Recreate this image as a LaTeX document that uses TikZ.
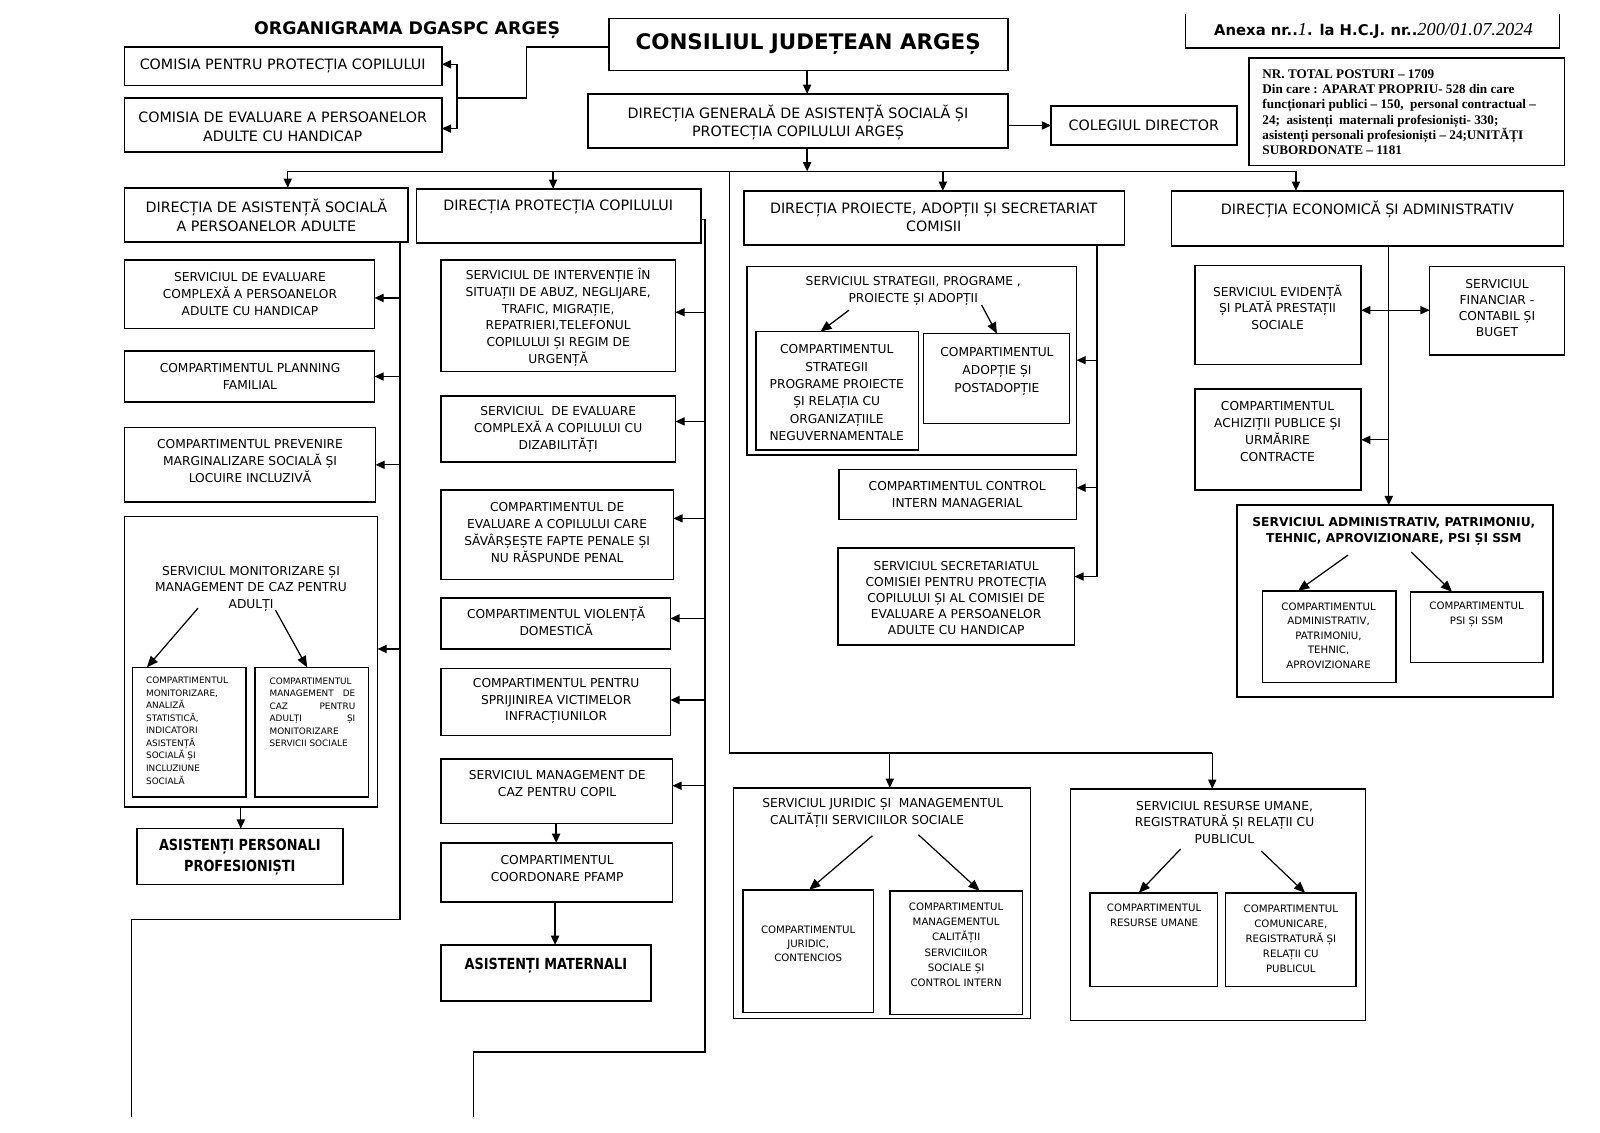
\documentclass[tikz,border=0pt]{standalone}
\usepackage{graphicx}
\usepackage{fontspec}
\setmainfont{DejaVu Sans}
\newfontfamily\tnr{Liberation Serif}
\usetikzlibrary{arrows.meta,fit}
\tikzset{
  bx/.style={draw, line width=1.5pt, inner sep=0pt, outer sep=0pt},
  sbx/.style={draw, line width=1.4pt, inner sep=0pt, outer sep=0pt},
  ln/.style={line width=1.3pt},
  ar/.style={line width=1.3pt, -{Triangle[length=9pt,width=8pt]}},
  ars/.style={line width=1.2pt, -{Triangle[length=11pt,width=9pt]}},
  dar/.style={line width=1.3pt, {Triangle[length=9pt,width=8pt]}-{Triangle[length=9pt,width=8pt]}},
  tH/.style={inner sep=0pt, align=center, font=\fontsize{14}{18.5}\selectfont},
  tM/.style={inner sep=0pt, align=center, font=\fontsize{12}{16.5}\selectfont},
  tS/.style={inner sep=0pt, align=center, font=\fontsize{10}{14.5}\selectfont},
  tX/.style={inner sep=0pt, align=left, font=\fontsize{8.7}{12.3}\selectfont},
  tB/.style={inner sep=0pt, align=center, font=\fontsize{15}{20}\selectfont\bfseries},
}
\begin{document}
\begin{tikzpicture}[x=1pt,y=-1pt]
\useasboundingbox (0,0) rectangle (1568,1110);
\fill[white] (0,0) rectangle (1568,1110);

% ---------------- top ----------------
\node[inner sep=0pt, font=\fontsize{17}{20}\selectfont\bfseries] (title) at (399,30) {ORGANIGRAMA DGASPC ARGEȘ};
\node[bx, fit={(122,46) (433,84)}] (com1) {};
\node[tH] (com1t) at (277,65) {COMISIA PENTRU PROTECȚIA COPILULUI};
\node[bx, fit={(122,96) (433,149)}] (com2) {};
\node[tH] (com2t) at (277,124) {COMISIA DE EVALUARE A PERSOANELOR\\ADULTE CU HANDICAP};
\node[bx, fit={(597,18) (988,69)}] (cja) {};
\node[inner sep=0pt, font=\fontsize{21}{24}\selectfont\bfseries] (cjat) at (792,43) {CONSILIUL JUDEȚEAN ARGEȘ};
\node[bx, fit={(576,92) (988,145)}] (dg) {};
\node[tH] (dgt) at (782,120) {DIRECȚIA GENERALĂ DE ASISTENȚĂ SOCIALĂ ȘI\\PROTECȚIA COPILULUI ARGEȘ};
\node[bx, fit={(1030,104) (1212,142)}] (col) {};
\node[tH] (colt) at (1121,123) {COLEGIUL DIRECTOR};

\draw[line width=1.3pt] (1162,14) -- (1162,47) -- (1528,47) -- (1528,14);
\node[inner sep=0pt, font=\fontsize{14.5}{16}\selectfont\bfseries] (anexa) at (1346,30) {Anexa nr..{\tnr\itshape\mdseries\fontsize{18}{18}\selectfont 1}. la H.C.J. nr..{\tnr\itshape\mdseries\fontsize{18}{18}\selectfont 200/01.07.2024}};

\node[bx, fit={(1224,57) (1533,162)}] (nr) {};
\node[inner sep=0pt, align=left, anchor=west, font=\tnr\bfseries\fontsize{12.9}{15}\selectfont] (nrt) at (1237,110) {NR. TOTAL POSTURI – 1709\\Din care : APARAT PROPRIU- 528 din care\\funcționari publici – 150,\ \ personal contractual –\\24;\ \ asistenți\ \ maternali profesioniști- 330;\\asistenți personali profesioniști – 24;UNITĂȚI\\SUBORDONATE – 1181};

\coordinate (cj1) at (516,46);
\coordinate (cj2) at (516,96);
\coordinate (cjv) at (448,96);
\draw[ln] (cja.west |- cj1) -- (cj1) -- (cj2) -- (cjv);
\draw[ar] (cjv) |- (com1.east |- 0,63);
\draw[ar] (cjv) |- (com2.east |- 0,126);
\draw[ar] (cja.south -| 791,0) -- (dg.north -| 791,0);
\draw[ar] (dg.east |- col.west) -- (col.west);

\coordinate (busL) at (282,168);
\coordinate (busR) at (1270,168);
\draw[ar] (dg.south -| 791,0) -- (busL -| 791,0);
\draw[ln] (busL) -- (busR);

% ---------------- directions ----------------
\node[bx, fit={(122,184) (400,237)}] (das) {};
\node[tH] (dast) at (261,211) {DIRECȚIA DE ASISTENȚĂ SOCIALĂ\\A PERSOANELOR ADULTE};
\draw[ar] (busL) -- (busL |- das.north);

\node[bx, fit={(408,185) (687,238)}] (dpc) {};
\node[tH] (dpct) at (547,203) {DIRECȚIA PROTECȚIA COPILULUI};
\coordinate (b2) at (542,168);
\draw[ar] (b2) -- (b2 |- dpc.north);

\node[bx, fit={(729,187) (1102,240)}] (dpa) {};
\node[tH] (dpat) at (915,213) {DIRECȚIA PROIECTE, ADOPȚII ȘI SECRETARIAT\\COMISII};
\coordinate (b3) at (924,168);
\draw[ar] (b3) -- (b3 |- dpa.north);

\node[bx, fit={(1148,187) (1532,241)}] (dea) {};
\node[tH] (deat) at (1340,205) {DIRECȚIA ECONOMICĂ ȘI ADMINISTRATIV};
\draw[ar] (busR) -- (busR |- dea.north);

% ---------------- DAS column ----------------
\node[bx, fit={(122,255) (367,322)}] (sea) {};
\node[tM] (seat) at (245,288) {SERVICIUL DE EVALUARE\\COMPLEXĂ A PERSOANELOR\\ADULTE CU HANDICAP};
\node[bx, fit={(122,344) (367,394)}] (pf) {};
\node[tM] (pft) at (245,369) {COMPARTIMENTUL PLANNING\\FAMILIAL};
\node[bx, fit={(122,419) (368,492)}] (pm) {};
\node[tM] (pmt) at (245,452) {COMPARTIMENTUL PREVENIRE\\MARGINALIZARE SOCIALĂ ȘI\\LOCUIRE INCLUZIVĂ};
\node[bx, fit={(122,506) (370,791)}] (smc) {};
\node[tM] (smct) at (246,577) {SERVICIUL MONITORIZARE ȘI\\MANAGEMENT DE CAZ PENTRU\\ADULȚI};
\node[sbx, fit={(130,654) (241,781)}] (sm1) {};
\node[tX, anchor=west] (sm1t) at (143,716) {COMPARTIMENTUL\\MONITORIZARE,\\ANALIZĂ\\STATISTICĂ,\\INDICATORI\\ASISTENȚĂ\\SOCIALĂ ȘI\\INCLUZIUNE\\SOCIALĂ};
\node[sbx, fit={(250,654) (361,781)}] (sm2) {};
\node[tX, anchor=west, text width=84pt] (sm2t) at (264,698) {COMPARTIMENTUL\\MANAGEMENT\hfill DE\\CAZ\hfill PENTRU\\ADULȚI\hfill ȘI\\MONITORIZARE\\SERVICII SOCIALE};
\coordinate (sma) at (194,596);
\coordinate (smb) at (270,598);
\draw[ars] (sma) -- (sm1.north -| 144,0);
\draw[ars] (smb) -- (sm2.north -| 301,0);
\node[bx, fit={(134,812) (336,867)}] (ap) {};
\node[tB] (apt) at (235,840) {\scalebox{0.84}[1]{ASISTENȚI PERSONALI}\\\scalebox{0.84}[1]{PROFESIONIȘTI}};
\draw[ar] (smc.south -| 236,0) -- (ap.north -| 236,0);

\coordinate (dv1) at (392,237);
\coordinate (dv2) at (392,901);
\coordinate (dv3) at (129,901);
\coordinate (dv4) at (129,1095);
\draw[ln] (das.south -| dv1) -- (dv2) -- (dv3) -- (dv4);
\draw[ar] (dv1 |- 0,292) -- (sea.east |- 0,292);
\draw[ar] (dv1 |- pf.east) -- (pf.east);
\draw[ar] (dv1 |- pm.east) -- (pm.east);
\draw[ar] (dv1 |- 0,636) -- (smc.east |- 0,636);

% ---------------- DPC column ----------------
\node[bx, fit={(432,255) (662,364)}] (si) {};
\node[tM] (sit) at (547,311) {SERVICIUL DE INTERVENȚIE ÎN\\SITUAȚII DE ABUZ, NEGLIJARE,\\TRAFIC, MIGRAȚIE,\\REPATRIERI,TELEFONUL\\COPILULUI ȘI REGIM DE\\URGENȚĂ};
\node[bx, fit={(432,388) (662,453)}] (sec) {};
\node[tM] (sect) at (547,421) {SERVICIUL\ \ DE EVALUARE\\COMPLEXĂ A COPILULUI CU\\DIZABILITĂȚI};
\node[bx, fit={(432,480) (660,568)}] (ce) {};
\node[tM] (cet) at (546,522) {COMPARTIMENTUL DE\\EVALUARE A COPILULUI CARE\\SĂVÂRȘEȘTE FAPTE PENALE ȘI\\NU RĂSPUNDE PENAL};
\node[bx, fit={(432,586) (657,636)}] (vd) {};
\node[tM] (vdt) at (545,609) {COMPARTIMENTUL VIOLENȚĂ\\DOMESTICĂ};
\node[bx, fit={(432,655) (657,721)}] (sv) {};
\node[tM] (svt) at (545,687) {COMPARTIMENTUL PENTRU\\SPRIJINIREA VICTIMELOR\\INFRACȚIUNILOR};
\node[bx, fit={(432,744) (659,807)}] (smcc) {};
\node[tM] (smcct) at (546,768) {SERVICIUL MANAGEMENT DE\\CAZ PENTRU COPIL};
\node[bx, fit={(432,826) (659,884)}] (pfamp) {};
\node[tM] (pfampt) at (546,851) {COMPARTIMENTUL\\COORDONARE PFAMP};
\node[bx, fit={(432,926) (638,981)}] (am) {};
\node[tB] (amt) at (535,946) {\scalebox{0.84}[1]{ASISTENȚI MATERNALI}};
\draw[ar] (smcc.south -| 545,0) -- (pfamp.north -| 545,0);
\draw[ar] (pfamp.south -| 544,0) -- (am.north -| 544,0);

\coordinate (pv1) at (691,215);
\coordinate (pv2) at (691,1031);
\coordinate (pv3) at (464,1031);
\coordinate (pv4) at (464,1095);
\draw[ln] (dpc.east |- pv1) -- (pv1) -- (pv2) -- (pv3) -- (pv4);
\draw[ar] (pv1 |- 0,306) -- (si.east |- 0,306);
\draw[ar] (pv1 |- 0,413) -- (sec.east |- 0,413);
\draw[ar] (pv1 |- 0,508) -- (ce.east |- 0,508);
\draw[ar] (pv1 |- 0,606) -- (vd.east |- 0,606);
\draw[ar] (pv1 |- 0,686) -- (sv.east |- 0,686);
\draw[ar] (pv1 |- 0,770) -- (smcc.east |- 0,770);

% ---------------- DPA column ----------------
\node[bx, fit={(732,261) (1055,446)}] (ss) {};
\node[tM] (sst) at (895,285) {SERVICIUL STRATEGII, PROGRAME ,\\PROIECTE ȘI ADOPȚII};
\node[sbx, fit={(741,325) (900,441)}] (ss1) {};
\node[tM, font=\fontsize{12}{17}\selectfont] (ss1t) at (820,385) {COMPARTIMENTUL\\STRATEGII\\PROGRAME PROIECTE\\ȘI RELAȚIA CU\\ORGANIZAȚIILE\\NEGUVERNAMENTALE};
\node[sbx, fit={(905,327) (1048,415)}] (ss2) {};
\node[tM, font=\fontsize{12}{17.5}\selectfont] (ss2t) at (977,364) {COMPARTIMENTUL\\ADOPȚIE ȘI\\POSTADOPȚIE};
\coordinate (ssa) at (832,304);
\coordinate (ssb) at (962,299);
\draw[ars] (ssa) -- (ss1.north -| 804,0);
\draw[ars] (ssb) -- (ss2.north -| 977,0);
\node[bx, fit={(822,460) (1055,509)}] (cim) {};
\node[tM] (cimt) at (938,485) {COMPARTIMENTUL CONTROL\\INTERN MANAGERIAL};
\node[bx, fit={(821,537) (1053,632)}] (ssec) {};
\node[tM, font=\fontsize{12}{15.8}\selectfont] (ssect) at (937,586) {SERVICIUL SECRETARIATUL\\COMISIEI PENTRU PROTECȚIA\\COPILULUI ȘI AL COMISIEI DE\\EVALUARE A PERSOANELOR\\ADULTE CU HANDICAP};

\coordinate (av1) at (1075,240);
\coordinate (av2) at (1075,565);
\draw[ln] (dpa.south -| av1) -- (av2);
\draw[ar] (av1 |- 0,353) -- (ss.east |- 0,353);
\draw[ar] (av1 |- 0,478) -- (cim.east |- 0,478);
\draw[ar] (av2) -- (ssec.east |- av2);

% ---------------- DEA column ----------------
\node[bx, fit={(1171,260) (1334,357)}] (ev) {};
\node[tM] (evt) at (1252,301) {SERVICIUL EVIDENȚĂ\\ȘI PLATĂ PRESTAȚII\\SOCIALE};
\node[bx, fit={(1401,261) (1533,348)}] (fin) {};
\node[tM, font=\fontsize{12}{15.8}\selectfont] (fint) at (1467,302) {SERVICIUL\\FINANCIAR -\\CONTABIL ȘI\\BUGET};
\node[bx, fit={(1171,381) (1334,480)}] (ach) {};
\node[tM] (acht) at (1252,423) {COMPARTIMENTUL\\ACHIZIȚII PUBLICE ȘI\\URMĂRIRE\\CONTRACTE};
\node[bx, fit={(1212,495) (1522,683)}] (sa) {};
\node[tM, font=\fontsize{12}{15.5}\selectfont\bfseries] (sat) at (1366,521) {SERVICIUL ADMINISTRATIV, PATRIMONIU,\\TEHNIC, APROVIZIONARE, PSI ȘI SSM};
\node[sbx, fit={(1237,579) (1368,669)}] (sa1) {};
\node[tS, font=\fontsize{10}{14.2}\selectfont] (sa1t) at (1302,623) {COMPARTIMENTUL\\ADMINISTRATIV,\\PATRIMONIU,\\TEHNIC,\\APROVIZIONARE};
\node[sbx, fit={(1382,580) (1512,649)}] (sa2) {};
\node[tS, font=\fontsize{10}{14.2}\selectfont] (sa2t) at (1447,602) {COMPARTIMENTUL\\PSI ȘI SSM};
\coordinate (saa) at (1321,544);
\coordinate (sab) at (1383,541);
\draw[ars] (saa) -- (sa1.north -| 1272,0);
\draw[ars] (sab) -- (sa2.north -| 1423,0);

\coordinate (ev1) at (1361,241);
\draw[ar] (dea.south -| ev1) -- (sa.north -| ev1);
\draw[dar] (ev.east |- 0,304) -- (fin.west |- 0,304);
\draw[ar] (ev1 |- 0,431) -- (ach.east |- 0,431);

% ---------------- bottom row ----------------
\coordinate (b4) at (715,168);
\coordinate (b4d) at (715,738);
\coordinate (b5) at (1188,738);
\coordinate (b6) at (872,738);
\draw[ln] (b4) -- (b4d) -- (b5);

\node[bx, fit={(719,772) (1010,998)}] (jur) {};
\node[tM, align=left, anchor=west] (jurt) at (747,797) {SERVICIUL JURIDIC ȘI\ \ MANAGEMENTUL\\\ \ CALITĂȚII SERVICIILOR SOCIALE};
\node[sbx, fit={(728,872) (856,992)}] (j1) {};
\node[tS, font=\fontsize{10}{13.5}\selectfont] (j1t) at (792,925) {COMPARTIMENTUL\\JURIDIC,\\CONTENCIOS};
\node[sbx, fit={(872,873) (1002,994)}] (j2) {};
\node[tS, font=\fontsize{10}{15}\selectfont] (j2t) at (937,926) {COMPARTIMENTUL\\MANAGEMENTUL\\CALITĂȚII\\SERVICIILOR\\SOCIALE ȘI\\CONTROL INTERN};
\coordinate (ja) at (855,819);
\coordinate (jb) at (900,818);
\draw[ars] (ja) -- (j1.north -| 793,0);
\draw[ars] (jb) -- (j2.north -| 960,0);
\draw[ar] (b6) -- (b6 |- jur.north);

\node[bx, fit={(1049,773) (1338,1000)}] (ru) {};
\node[tM] (rut) at (1200,806) {SERVICIUL RESURSE UMANE,\\REGISTRATURĂ ȘI RELAȚII CU\\PUBLICUL};
\node[sbx, fit={(1068,875) (1193,967)}] (r1) {};
\node[tS, font=\fontsize{10}{14.5}\selectfont] (r1t) at (1131,897) {COMPARTIMENTUL\\RESURSE UMANE};
\node[sbx, fit={(1201,875) (1329,967)}] (r2) {};
\node[tS, font=\fontsize{10}{14.7}\selectfont] (r2t) at (1265,920) {COMPARTIMENTUL\\COMUNICARE,\\REGISTRATURĂ ȘI\\RELAȚII CU\\PUBLICUL};
\coordinate (ra) at (1157,832);
\coordinate (rb) at (1236,834);
\draw[ars] (ra) -- (r1.north -| 1116,0);
\draw[ars] (rb) -- (r2.north -| 1279,0);
\draw[ar] (b5) -- (b5 |- ru.north);
\end{tikzpicture}
\end{document}
